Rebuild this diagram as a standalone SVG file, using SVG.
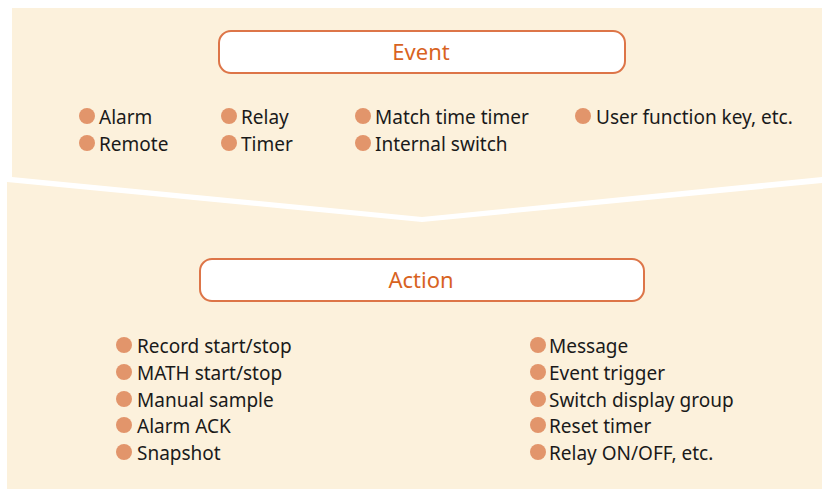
<svg xmlns="http://www.w3.org/2000/svg" width="822" height="489" viewBox="0 0 822 489">
<style>
.bg{fill:#FCF1DC}
.box{fill:#fff;stroke:#DD7548;stroke-width:2}
.title{font-family:"Noto Sans",sans-serif;font-size:22px;fill:#D8631F;text-anchor:middle}
.item{font-family:"Noto Sans",sans-serif;font-size:19px;fill:#1a1a1a}
.dot{fill:#E2956B}
</style>
<rect width="822" height="489" fill="#fff"/>
<polygon class="bg" points="12,8 822,8 822,177 422,217 12,177"/>
<polygon class="bg" points="7,182 422,222 822,183 822,489 7,489"/>
<g id="event">
<rect class="box" x="219" y="31" width="406" height="42" rx="12"/>
<text class="title" x="421" y="60">Event</text>
</g>
<g id="event-items">
<circle class="dot" cx="87" cy="116" r="8"/><text class="item" x="99" y="124">Alarm</text>
<circle class="dot" cx="87" cy="143" r="8"/><text class="item" x="99" y="151">Remote</text>
<circle class="dot" cx="229" cy="116" r="8"/><text class="item" x="241" y="124">Relay</text>
<circle class="dot" cx="229" cy="143" r="8"/><text class="item" x="241" y="151">Timer</text>
<circle class="dot" cx="363" cy="116" r="8"/><text class="item" x="375" y="124">Match time timer</text>
<circle class="dot" cx="363" cy="143" r="8"/><text class="item" x="375" y="151">Internal switch</text>
<circle class="dot" cx="583" cy="116" r="8"/><text class="item" x="596" y="124">User function key, etc.</text>
</g>
<g id="action">
<rect class="box" x="200" y="259" width="444" height="42" rx="12"/>
<text class="title" x="421" y="288">Action</text>
</g>
<g id="action-items">
<circle class="dot" cx="124" cy="345" r="8"/><text class="item" x="137" y="353">Record start/stop</text>
<circle class="dot" cx="124" cy="372" r="8"/><text class="item" x="137" y="380">MATH start/stop</text>
<circle class="dot" cx="124" cy="399" r="8"/><text class="item" x="137" y="407">Manual sample</text>
<circle class="dot" cx="124" cy="425" r="8"/><text class="item" x="137" y="433">Alarm ACK</text>
<circle class="dot" cx="124" cy="452" r="8"/><text class="item" x="137" y="460">Snapshot</text>
<circle class="dot" cx="538" cy="345" r="8"/><text class="item" x="549" y="353">Message</text>
<circle class="dot" cx="538" cy="372" r="8"/><text class="item" x="549" y="380">Event trigger</text>
<circle class="dot" cx="538" cy="399" r="8"/><text class="item" x="549" y="407">Switch display group</text>
<circle class="dot" cx="538" cy="425" r="8"/><text class="item" x="549" y="433">Reset timer</text>
<circle class="dot" cx="538" cy="452" r="8"/><text class="item" x="549" y="460">Relay ON/OFF, etc.</text>
</g>
<g id="connectors"></g>
</svg>
